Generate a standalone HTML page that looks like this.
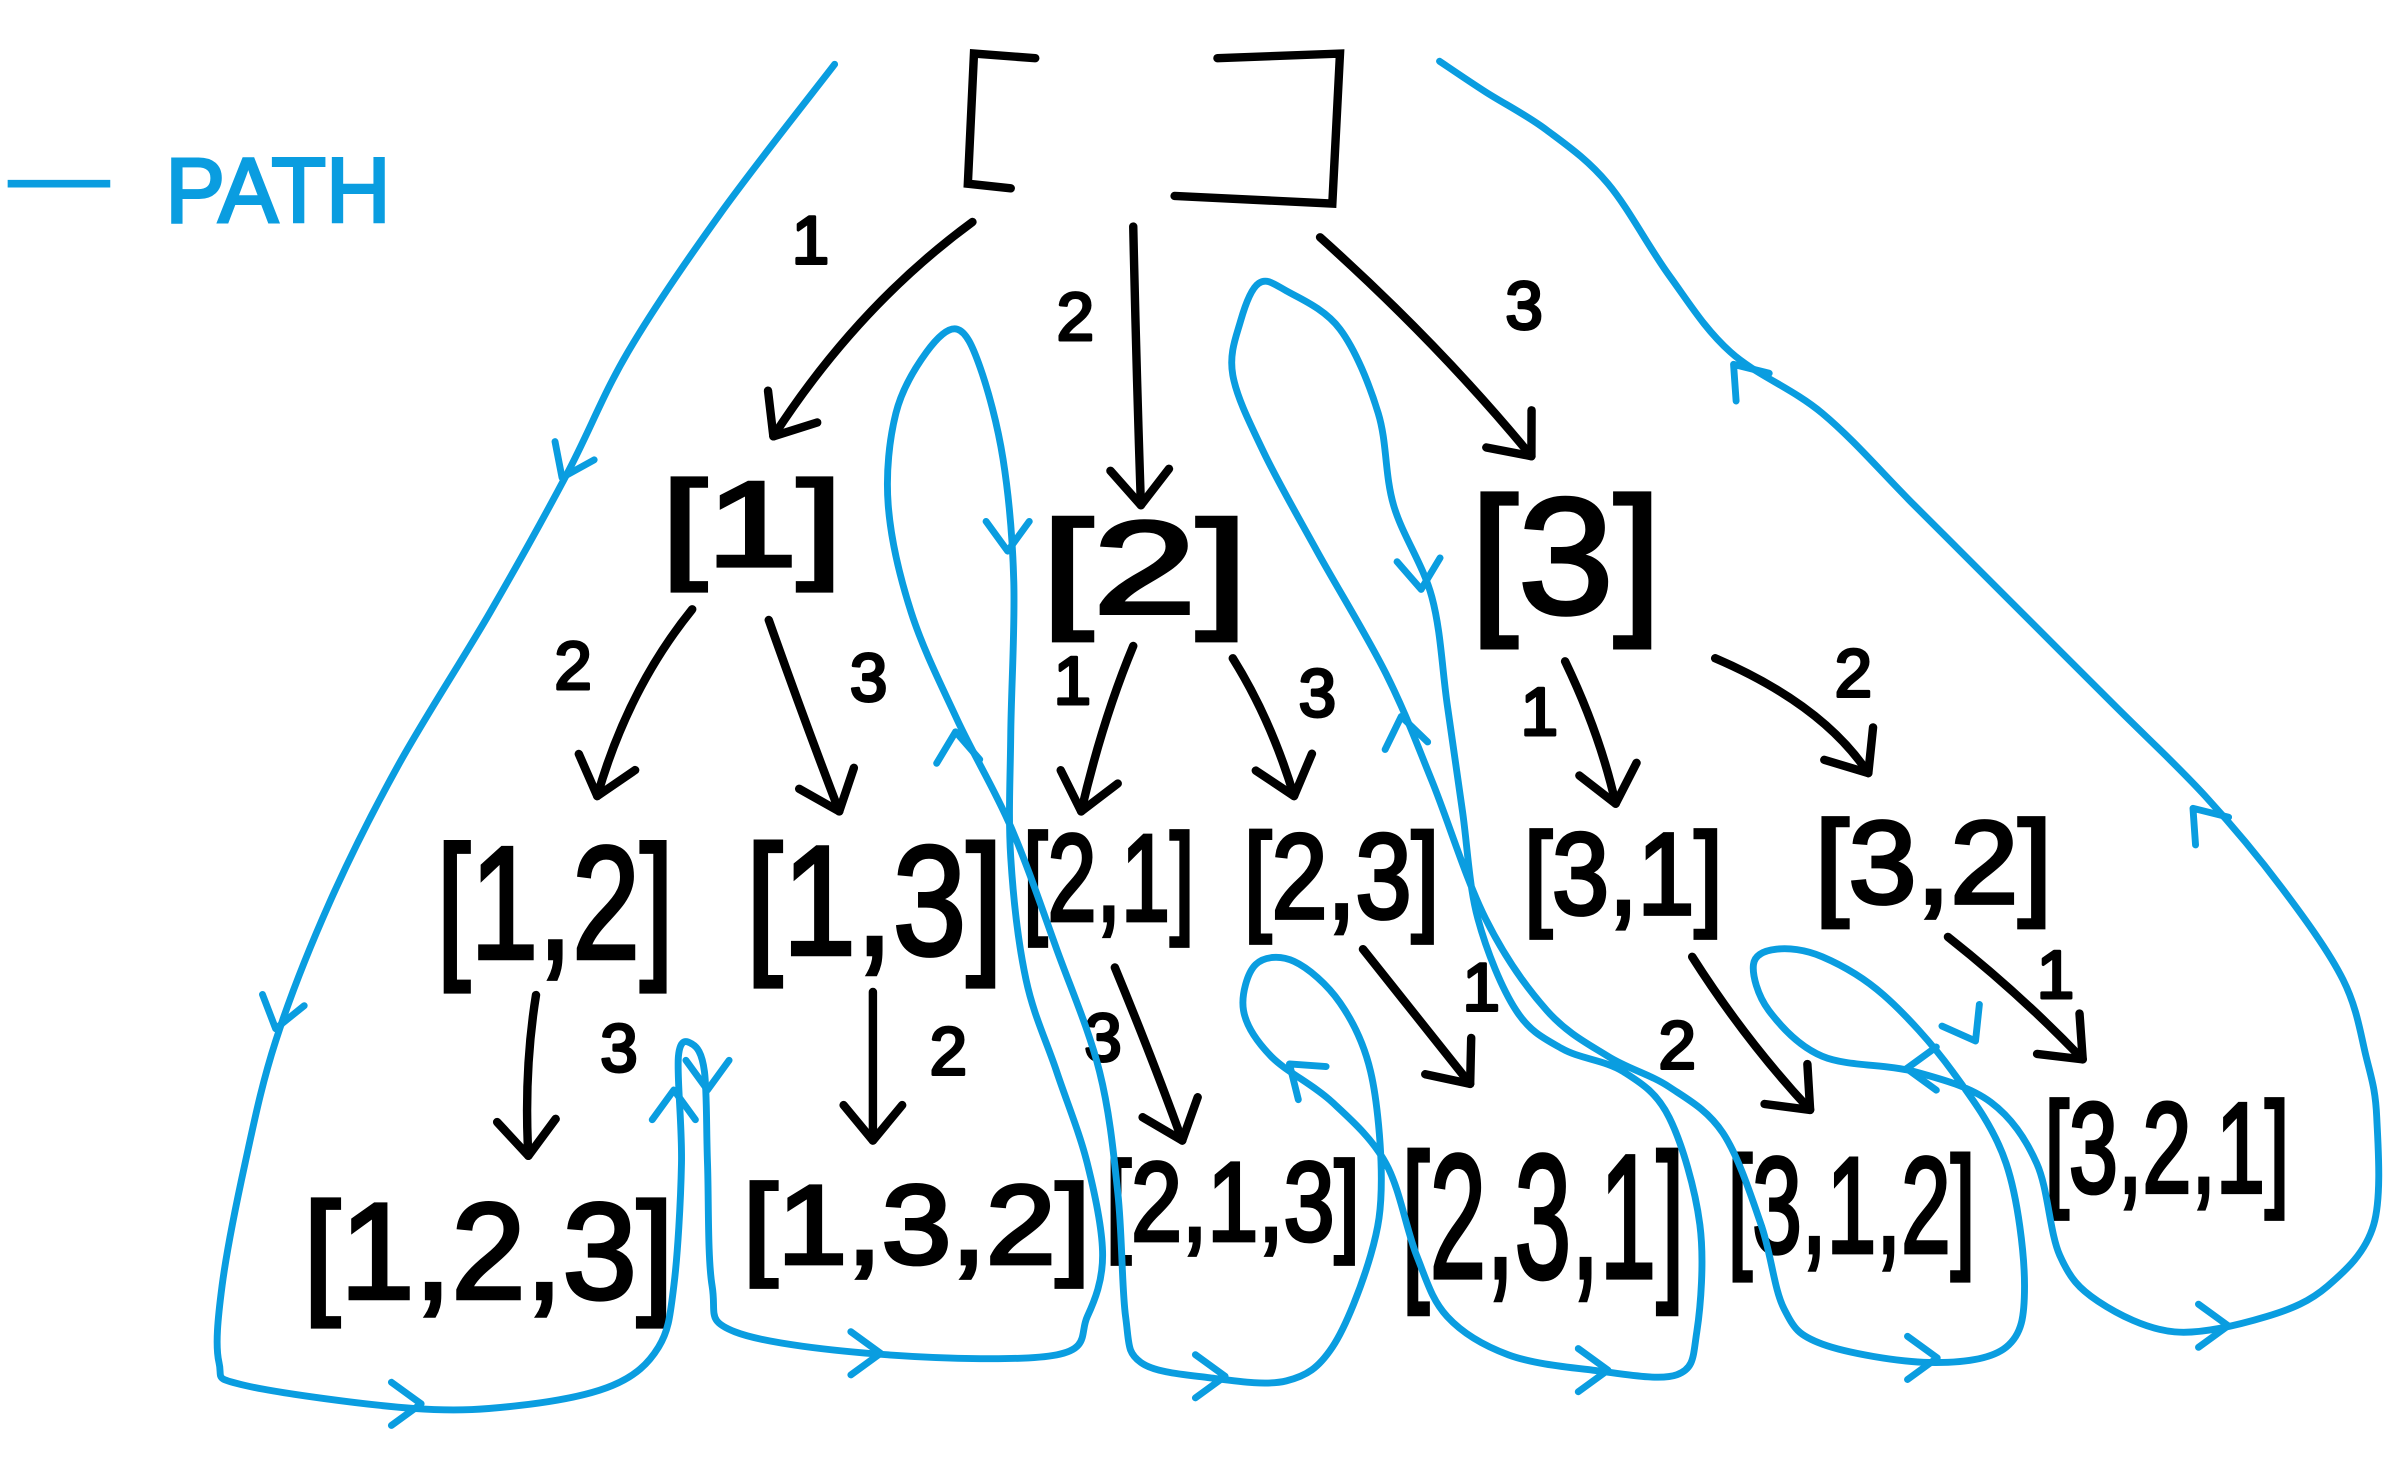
<!DOCTYPE html>
<html><head><meta charset="utf-8"><style>
html,body{margin:0;padding:0;background:#fff;}
svg{display:block;}
text{font-family:"Liberation Sans",sans-serif;}
</style></head><body>
<svg id="dia" width="2389" height="1462" viewBox="0 0 1560 955" preserveAspectRatio="none" xmlns="http://www.w3.org/2000/svg">
<g>
<line x1="5" y1="120" x2="72" y2="120" stroke="#0a9de0" stroke-width="5"/>
<text x="108" y="145" font-size="60" fill="#0a9de0" stroke="#0a9de0" stroke-width="2" textLength="147" lengthAdjust="spacingAndGlyphs">PATH</text>
</g>
<g fill="none" stroke="#000" stroke-width="5.5" stroke-linecap="round">
<path d="M676,38 L636,35 L632,120 L660,123"/>
<path d="M795,38 L875,35 L870,133 L767,128"/>
</g>
<g id="nodes" fill="#000" stroke="#000" stroke-width="2.5"></g>
<g id="edges" fill="none" stroke="#000" stroke-width="5.5" stroke-linecap="round" stroke-linejoin="round"></g>
<g id="blue" fill="none" stroke="#0a9de0" stroke-width="4.5" stroke-linecap="round" stroke-linejoin="round"></g>
</svg>
<script>
const NS="http://www.w3.org/2000/svg";
const nodeLabels=["[1]","[2]","[3]","[1,2]","[1,3]","[2,1]","[2,3]","[3,1]","[3,2]","[1,2,3]","[1,3,2]","[2,1,3]","[2,3,1]","[3,1,2]","[3,2,1]"];
const nodeBoxes=[[432,305,118,75],[680,330,135,82],[960,312,125,103],[285,540,155,100],[487,540,168,97],[668,535,112,77],[812,535,128,75],[995,535,130,72],[1185,527,155,73],[198,775,242,85],[485,765,227,70],[722,750,166,70],[915,740,185,110],[1128,745,162,85],[1335,710,160,80]];
const nodesG=document.getElementById('nodes');
nodeLabels.forEach((t,i)=>{const b=nodeBoxes[i];const el=document.createElementNS(NS,'text');


el.setAttribute('x',b[0]);el.setAttribute('y',b[1]+b[3]*0.86);
el.setAttribute('font-size',b[3]*1.05);el.setAttribute('textLength',b[2]);el.setAttribute('lengthAdjust','spacingAndGlyphs');
el.textContent=t;nodesG.appendChild(el);});
const edges=[[635,145,560,200,505,285,'1',517,172],[740,148,742,240,745,330,'2',690,222],[862,155,940,225,1000,298,'3',983,215],[452,398,410,450,390,520,'2',362,450],[502,405,525,470,548,530,'3',555,458],[740,422,720,470,706,530,'1',688,460],[805,430,830,470,845,520,'3',848,468],[1022,432,1045,480,1055,525,'1',993,480],[1120,430,1190,460,1220,505,'2',1198,455],[350,650,342,700,345,755,'3',392,700],[570,648,570,700,570,745,'2',607,702],[728,632,752,690,772,745,'3',708,693],[890,620,930,670,960,708,'1',955,660],[1105,625,1140,680,1182,725,'2',1083,698],[1272,612,1320,650,1360,692,'1',1330,652]];
const edgesG=document.getElementById('edges');
edges.forEach((e,i)=>{const p=document.createElementNS(NS,'path');


p.setAttribute('d',`M${e[0]},${e[1]} Q${e[2]},${e[3]} ${e[4]},${e[5]}`);edgesG.appendChild(p);
const ang=Math.atan2(e[5]-e[3],e[4]-e[2]);const L=30;
const h=document.createElementNS(NS,'path');


const a1=ang+Math.PI*0.78,a2=ang-Math.PI*0.78;
h.setAttribute('d',`M${e[4]+L*Math.cos(a1)},${e[5]+L*Math.sin(a1)} L${e[4]},${e[5]} L${e[4]+L*Math.cos(a2)},${e[5]+L*Math.sin(a2)}`);edgesG.appendChild(h);
const t=document.createElementNS(NS,'text');


t.setAttribute('x',e[7]);t.setAttribute('y',e[8]);t.setAttribute('font-size',44);t.setAttribute('fill','#000');t.setAttribute('stroke','#000');t.setAttribute('stroke-width','2');t.textContent=e[6];edgesG.appendChild(t);});
const pathPts=[[545,42],[470,140],[410,230],[370,310],[320,400],[260,500],[215,590],[180,680],[160,760],[145,840],[143,890],[160,905],[270,920],[340,918],[400,905],[430,880],[440,840],[445,760],[443,690],[452,682],[460,700],[462,760],[465,840],[480,870],[580,885],[690,885],[710,860],[720,820],[710,760],[690,700],[670,640],[660,560],[660,480],[662,380],[655,300],[640,240],[625,215],[605,230],[585,270],[580,330],[595,400],[625,470],[660,540],[690,620],[718,700],[730,780],[735,860],[745,890],[790,900],[840,902],[870,880],[895,820],[902,770],[895,700],[875,655],[845,628],[820,630],[812,660],[830,690],[870,720],[905,760],[925,820],[945,860],[985,885],[1040,895],[1095,898],[1108,870],[1110,800],[1090,730],[1060,700],[1020,685],[990,660],[965,600],[955,530],[945,460],[935,390],[910,330],[900,270],[875,215],[840,190],[822,185],[810,210],[805,245],[825,295],[860,360],[905,440],[935,510],[970,600],[1010,660],[1050,690],[1090,710],[1125,740],[1150,800],[1165,855],[1190,878],[1260,890],[1310,880],[1322,840],[1310,760],[1275,700],[1230,650],[1190,625],[1160,620],[1145,630],[1155,660],[1190,690],[1250,700],[1300,720],[1330,760],[1345,820],[1370,850],[1420,870],[1480,860],[1520,840],[1550,800],[1552,730],[1545,690],[1530,640],[1490,580],[1440,520],[1380,460],[1310,390],[1250,330],[1190,270],[1130,230],[1090,180],[1050,120],[1010,85],[970,60],[940,40]];
function smooth(p){let d=`M${p[0][0]},${p[0][1]}`;for(let i=0;i<p.length-1;i++){const p0=p[i-1]||p[i],p1=p[i],p2=p[i+1],p3=p[i+2]||p2;
d+=` C${p1[0]+(p2[0]-p0[0])/6},${p1[1]+(p2[1]-p0[1])/6} ${p2[0]-(p3[0]-p1[0])/6},${p2[1]-(p3[1]-p1[1])/6} ${p2[0]},${p2[1]}`;}return d;}
const blueG=document.getElementById('blue');
const bp=document.createElementNS(NS,'path');


bp.setAttribute('d',smooth(pathPts));blueG.appendChild(bp);
const markers=[[367,312,115],[180,672,105],[275,917,0],[440,712,-90],[462,712,90],[575,884,0],[658,360,90],[624,478,-95],[800,899,0],[928,385,85],[915,468,-100],[842,695,-140],[1050,895,0],[1245,698,180],[1265,887,0],[1290,680,60],[1455,866,0],[1432,528,-130],[1132,238,-130]];
markers.forEach(m=>{const a=m[2]*Math.PI/180,L=24;const a1=a+Math.PI*0.8,a2=a-Math.PI*0.8;
const v=document.createElementNS(NS,'path');


v.setAttribute('d',`M${m[0]+L*Math.cos(a1)},${m[1]+L*Math.sin(a1)} L${m[0]},${m[1]} L${m[0]+L*Math.cos(a2)},${m[1]+L*Math.sin(a2)}`);blueG.appendChild(v);});
</script>
</body></html>
